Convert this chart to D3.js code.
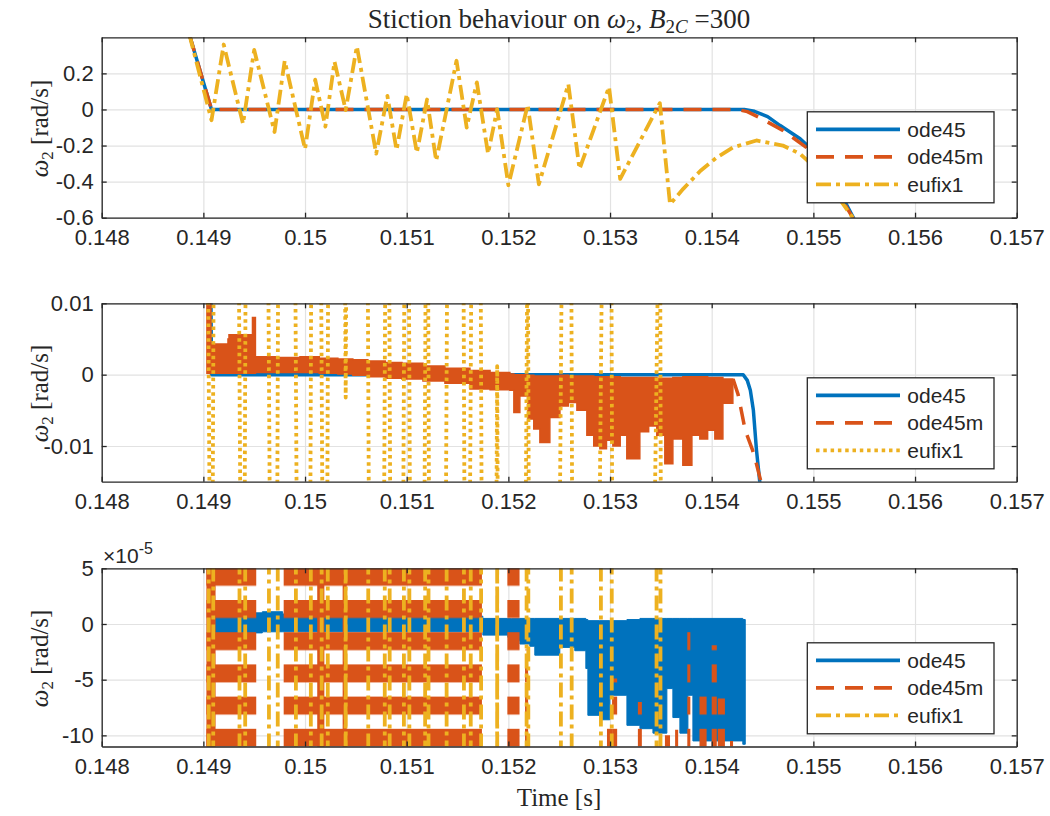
<!DOCTYPE html>
<html>
<head>
<meta charset="utf-8">
<script src="https://cdn.jsdelivr.net/npm/d3@7"></script>
<style>
body { margin: 0; background: #fff; }
svg text { fill: #262626; }
.sans { font-family: "Liberation Sans", Arial, sans-serif; }
.serif { font-family: "Liberation Serif", "Times New Roman", serif; }
</style>
</head>
<body>
<svg id="chart" width="1050" height="816"></svg>
<script>
// ticks
const xTicks = [0.148, 0.149, 0.150, 0.151, 0.152, 0.153, 0.154, 0.155, 0.156, 0.157];
const xTickLabels = ["0.148", "0.149", "0.15", "0.151", "0.152", "0.153", "0.154", "0.155", "0.156", "0.157"];
const topYTicks = [-0.6, -0.4, -0.2, 0, 0.2];
const topYLabels = ["-0.6", "-0.4", "-0.2", "0", "0.2"];
const midYTicks = [-0.01, 0, 0.01];
const midYLabels = ["-0.01", "0", "0.01"];
const botYTicks = [-10, -5, 0, 5];
const botYLabels = ["-10", "-5", "0", "5"];
const seriesNames = ["ode45", "ode45m", "eufix1"];

// eufix1, same run in all three panels (rad/s)
const eufixT = [0.14886, 0.14908, 0.14920, 0.14939, 0.14950, 0.14970, 0.14980, 0.15000, 0.15010, 0.15020,
  0.15029, 0.15040, 0.15051, 0.15070, 0.15081, 0.15090, 0.15100, 0.15110, 0.15120, 0.15129,
  0.15149, 0.15159, 0.15169, 0.15180, 0.15189, 0.15200, 0.15219, 0.15230, 0.15259, 0.15270,
  0.15299, 0.15310, 0.15349, 0.15359, 0.15372, 0.15389, 0.15405, 0.15421, 0.15444, 0.15470,
  0.15487, 0.15505, 0.15520, 0.15530, 0.15540, 0.15548];
const eufixW = [0.42, -0.06, 0.36, -0.08, 0.33, -0.125, 0.27, -0.22, 0.165, -0.095,
  0.265, -0.0032, 0.35, -0.245, 0.075, -0.225, 0.085, -0.24, 0.055, -0.285,
  0.27, -0.10, 0.15, -0.245, 0.0012, -0.42, 0.025, -0.415, 0.14, -0.33,
  0.125, -0.385, 0.035, -0.525, -0.44, -0.34, -0.266, -0.21, -0.172, -0.20,
  -0.246, -0.34, -0.45, -0.53, -0.61, -0.69];

// top panel
const ode45TopT = [0.14886, 0.14908, 0.15432, 0.15442, 0.15455, 0.15467, 0.15487, 0.15500, 0.15515, 0.15530, 0.15545];
const ode45TopW = [0.42, 0, 0, -0.01, -0.04, -0.088, -0.162, -0.23, -0.34, -0.50, -0.66];
const ode45mTopT = [0.14886, 0.14908, 0.15425, 0.15435, 0.15447, 0.15470, 0.15493, 0.15515, 0.15533, 0.15545];
const ode45mTopW = [0.42, 0, 0, -0.012, -0.045, -0.116, -0.21, -0.37, -0.545, -0.66];

// middle panel
const ode45MidT = [0.14886, 0.14908, 0.15431, 0.15435, 0.15438, 0.15441, 0.15444, 0.15448];
const ode45MidW = [0.42, 0, 0, -0.0008, -0.0022, -0.005, -0.0105, -0.016];
// ode45m chatter, drawn as its envelope
const ode45mMidT = [0.149035, 0.149065, 0.149075, 0.149242, 0.149252, 0.149473, 0.149483, 0.149502, 0.149512, 0.14973,
  0.14995, 0.15014, 0.150323, 0.15047, 0.150618, 0.15079, 0.150953, 0.15116, 0.151376, 0.151622,
  0.15182, 0.152015, 0.152054, 0.152113, 0.152192, 0.15225, 0.15231, 0.152408, 0.152507, 0.15259,
  0.152674, 0.152772, 0.15284, 0.1529, 0.152965, 0.153028, 0.1531, 0.153165, 0.153293, 0.15338,
  0.15346, 0.153539, 0.153618, 0.153716, 0.153805, 0.153883, 0.15396, 0.154031, 0.15411, 0.154208];
const ode45mMidHi = [0.0100, 0.0100, 0.0043, 0.0050, 0.0056, 0.0056, 0.0080, 0.0080, 0.0025, 0.0024,
  0.0025, 0.0023, 0.0022, 0.0021, 0.0019, 0.0017, 0.0016, 0.0012, 0.0009, 0.0006,
  0.0003, 0.0001, 0.0000, 0.0000, -0.0001, -0.0002, -0.0002, -0.0002, -0.0001, -0.0002,
  -0.0002, -0.0002, -0.0003, -0.0003, -0.0003, -0.0003, -0.0004, -0.0004, -0.0004, -0.0004,
  -0.0005, -0.0005, -0.0004, -0.0003, -0.0003, -0.0003, -0.0004, -0.0004, -0.0006, -0.0006];
const ode45mMidLo = [0.0002, 0.0002, 0.0002, 0.0002, 0.0002, 0.0002, 0.0002, 0.0002, 0.0003, 0.0003,
  0.0003, 0.0002, 0.0001, -0.0001, -0.0003, -0.0005, -0.0006, -0.0009, -0.0012, -0.0020,
  -0.0021, -0.0022, -0.0053, -0.0030, -0.0062, -0.0076, -0.0095, -0.0060, -0.0044, -0.0039,
  -0.0050, -0.0085, -0.0100, -0.0104, -0.0092, -0.0100, -0.0085, -0.0118, -0.0080, -0.0072,
  -0.0085, -0.0125, -0.0090, -0.0127, -0.0085, -0.0090, -0.0078, -0.0090, -0.0040, -0.0030];
const ode45mMidTailT = [0.15421, 0.15426, 0.15433, 0.15440, 0.15444, 0.15452];
const ode45mMidTailW = [-0.0006, -0.0028, -0.0078, -0.0105, -0.0125, -0.017];

// bottom panel, values in 1e-5 rad/s
const ode45BotT = [0.14904, 0.14958, 0.14978, 0.15110, 0.151749, 0.151995, 0.152034, 0.152113, 0.152211, 0.15226,
  0.152506, 0.152653, 0.152762, 0.152782, 0.1529, 0.152998, 0.153166, 0.153294, 0.153422, 0.153559,
  0.153618, 0.153687, 0.153766, 0.153815, 0.154306, 0.15433];
const ode45BotHi = [1.0, 1.1, 0.9, 0.7, 0.5, 0.5, 0.5, 0.5, 0.5, 0.5,
  0.5, 0.5, 0.4, 0.3, 0.3, 0.3, 0.4, 0.5, 0.5, 0.5,
  0.5, 0.5, 0.5, 0.5, 0.4, 0.4];
const ode45BotLo = [-0.8, -0.7, -0.7, -0.7, -1.0, -1.2, -1.5, -1.8, -2.0, -2.8,
  -2.1, -2.4, -4.0, -8.2, -8.6, -6.4, -9.1, -9.4, -9.8, -5.8,
  -8.4, -9.8, -6.4, -10.5, -10.8, -10.8];
// ode45m chatter blocks [t start, t end, top, bottom]
const ode45mBotBlocks = [
  [0.14903, 0.14952, 6, -12], [0.14979, 0.15174, 6, -12], [0.15199, 0.15211, 6, -12],
  [0.152164, 0.152194, -2.3, -12], [0.15297, 0.15302, -8.8, -12], [0.15302, 0.15307, -4.9, -12],
  [0.153274, 0.153313, -7, -12], [0.15354, 0.15359, -10, -12], [0.15364, 0.15367, -9.5, -12],
  [0.15376, 0.15379, -0.7, -12], [0.15388, 0.15395, -5.8, -12], [0.15400, 0.15405, -1.9, -12],
  [0.15406, 0.15413, -6.7, -12], [0.15418, 0.15421, -10.5, -12]];
const ode45mBotSolid = [[0.14903, 0.14912, 6, -12], [0.15012, 0.15019, 6, -12], [0.15037, 0.15041, 6, -12]];

const svg = d3.select("#chart");
const left = 101.7, right = 1016.7, w = right - left;
const x = d3.scaleLinear().domain([0.148, 0.157]).range([0, w]);
const blue = "#0072BD", red = "#D95319", yellow = "#EDB120";
const axisColor = "#262626", gridColor = "#e2e2e2";
const zip = (a, b) => a.map((d, i) => [d, b[i]]);

const defs = svg.append("defs");
const pat = defs.append("pattern").attr("id", "redStripes")
  .attr("patternUnits", "userSpaceOnUse")
  .attr("x", 0).attr("y", -0.5).attr("width", 10).attr("height", 32.2);
pat.append("rect").attr("width", 10).attr("height", 18).attr("fill", red);

// cut a polyline to a band of y so the huge swings stay short
function clipY(pts, lo, hi) {
  const out = [];
  let cur = null;
  for (let i = 0; i < pts.length - 1; i++) {
    const [t0, v0] = pts[i], [t1, v1] = pts[i + 1];
    let a = 0, b = 1;
    const dv = v1 - v0;
    if (dv === 0) {
      if (v0 < lo || v0 > hi) { cur = null; continue; }
    } else {
      let ta = (lo - v0) / dv, tb = (hi - v0) / dv;
      if (ta > tb) [ta, tb] = [tb, ta];
      a = Math.max(a, ta); b = Math.min(b, tb);
      if (a > b) { cur = null; continue; }
    }
    const p0 = [t0 + (t1 - t0) * a, v0 + dv * a];
    const p1 = [t0 + (t1 - t0) * b, v0 + dv * b];
    if (!cur || a > 0) { cur = [p0]; out.push(cur); }
    cur.push(p1);
    if (b < 1) cur = null;
  }
  return out;
}

function makePanel(id, top, bottom, yDomain, yTicks) {
  const h = bottom - top;
  const y = d3.scaleLinear().domain(yDomain).range([h, 0]);
  const g = svg.append("g").attr("transform", `translate(${left},${top})`);
  defs.append("clipPath").attr("id", "clip" + id)
    .append("rect").attr("width", w).attr("height", h);
  g.append("g")
    .call(d3.axisBottom(x).tickValues(xTicks).tickSize(h).tickFormat(""))
    .call(s => s.select(".domain").remove())
    .selectAll("line").attr("stroke", gridColor).attr("stroke-width", 1.2);
  g.append("g")
    .call(d3.axisLeft(y).tickValues(yTicks).tickSize(-w).tickFormat(""))
    .call(s => s.select(".domain").remove())
    .selectAll("line").attr("stroke", gridColor).attr("stroke-width", 1.2);
  const plot = g.append("g").attr("clip-path", `url(#clip${id})`);
  const line = d3.line().x(d => x(d[0])).y(d => y(d[1]));
  return { g, plot, y, h, line, yDomain };
}

function styleAxis(s) {
  s.attr("font-size", 22).attr("font-family", "Liberation Sans, Arial, sans-serif");
  s.select(".domain").attr("stroke", axisColor).attr("stroke-width", 1.3);
  s.selectAll(".tick line").attr("stroke", axisColor).attr("stroke-width", 1.3);
  s.selectAll(".tick text").attr("fill", "#262626");
}

function finish(p, yTicks, yLabels) {
  const { g, y, h } = p;
  g.append("g").attr("transform", `translate(0,${h})`)
    .call(d3.axisBottom(x).tickValues(xTicks).tickFormat((d, i) => xTickLabels[i])
      .tickSizeInner(-5).tickSizeOuter(0).tickPadding(12))
    .call(styleAxis);
  g.append("g")
    .call(d3.axisTop(x).tickValues(xTicks).tickFormat("").tickSizeInner(-5).tickSizeOuter(0))
    .call(styleAxis);
  g.append("g")
    .call(d3.axisLeft(y).tickValues(yTicks).tickFormat((d, i) => yLabels[i])
      .tickSizeInner(-5).tickSizeOuter(0).tickPadding(8))
    .call(styleAxis);
  g.append("g").attr("transform", `translate(${w},0)`)
    .call(d3.axisRight(y).tickValues(yTicks).tickFormat("").tickSizeInner(-5).tickSizeOuter(0))
    .call(styleAxis);
  const lab = g.append("text").attr("class", "serif")
    .attr("transform", `translate(${48 - left},${h / 2 + 1}) rotate(-90)`)
    .attr("text-anchor", "middle").attr("font-size", 25);
  lab.append("tspan").attr("font-style", "italic").text("ω");
  lab.append("tspan").attr("font-size", 17).attr("dy", 5).text("2");
  lab.append("tspan").attr("dy", -5).text(" [rad/s]");
}

function legend(p, styles) {
  const lg = p.g.append("g").attr("transform", `translate(${807.3 - left},74.5)`);
  lg.append("rect").attr("width", 186.7).attr("height", 91)
    .attr("fill", "#fff").attr("stroke", axisColor).attr("stroke-width", 1.3);
  const rows = [17.5, 45, 72.5];
  seriesNames.forEach((n, i) => {
    lg.append("line").attr("x1", 8.7).attr("x2", 92.7).attr("y1", rows[i]).attr("y2", rows[i])
      .attr("stroke", styles[i].color).attr("stroke-width", 3.8)
      .attr("stroke-dasharray", styles[i].dash);
    lg.append("text").attr("class", "sans").attr("x", 100).attr("y", rows[i])
      .attr("dy", "0.36em").attr("font-size", 21).text(n);
  });
}

function drawLine(p, pts, color, dash, width) {
  const [lo, hi] = p.yDomain;
  const m = (hi - lo) * 0.05;
  const d = clipY(pts, lo - m, hi + m).map(s => p.line(s)).join("");
  p.plot.append("path").attr("d", d).attr("fill", "none")
    .attr("stroke", color).attr("stroke-width", width)
    .attr("stroke-dasharray", dash).attr("stroke-linejoin", "round");
}

const dashRed = "18,11", dashDot = "15,5,4,5", dots = "3.5,3.8";

// top panel
const p1 = makePanel(1, 37.3, 217.7, [-0.6, 0.4], topYTicks);
drawLine(p1, zip(ode45TopT, ode45TopW), blue, null, 3.5);
drawLine(p1, zip(ode45mTopT, ode45mTopW), red, dashRed, 3.5);
drawLine(p1, zip(eufixT, eufixW), yellow, dashDot, 3.8);
finish(p1, topYTicks, topYLabels);
legend(p1, [{ color: blue, dash: null }, { color: red, dash: dashRed }, { color: yellow, dash: dashDot }]);

// middle panel
const p2 = makePanel(2, 303.3, 481.7, [-0.015, 0.01], midYTicks);
drawLine(p2, zip(ode45MidT, ode45MidW), blue, null, 3.5);
p2.plot.append("path")
  .datum(ode45mMidT.map((t, i) => [t, ode45mMidHi[i], ode45mMidLo[i]]))
  .attr("d", d3.area().curve(d3.curveStepAfter).x(d => x(d[0])).y0(d => p2.y(d[2])).y1(d => p2.y(d[1])))
  .attr("fill", red).attr("stroke", red).attr("stroke-width", 1.5);
drawLine(p2, zip(ode45mMidTailT, ode45mMidTailW), red, dashRed, 3.5);
drawLine(p2, zip(eufixT, eufixW), yellow, dots, 3.8);
finish(p2, midYTicks, midYLabels);
legend(p2, [{ color: blue, dash: null }, { color: red, dash: dashRed }, { color: yellow, dash: dots }]);

// bottom panel (axis in 1e-5)
const p3 = makePanel(3, 568.3, 746.5, [-11, 5], botYTicks);
p3.plot.append("path")
  .datum(ode45BotT.map((t, i) => [t, ode45BotHi[i], ode45BotLo[i]]))
  .attr("d", d3.area().curve(d3.curveStepAfter).x(d => x(d[0])).y0(d => p3.y(d[2])).y1(d => p3.y(d[1])))
  .attr("fill", blue).attr("stroke", blue).attr("stroke-width", 1);
const blockArea = d3.area().x(d => x(d[0])).y0(d => p3.y(d[2])).y1(d => p3.y(d[1]));
p3.plot.selectAll(".blk").data(ode45mBotBlocks).join("path")
  .attr("d", b => blockArea([[b[0], b[2], b[3]], [b[1], b[2], b[3]]]))
  .attr("fill", "url(#redStripes)");
p3.plot.selectAll(".sol").data(ode45mBotSolid).join("path")
  .attr("d", b => blockArea([[b[0], b[2], b[3]], [b[1], b[2], b[3]]]))
  .attr("fill", red);
drawLine(p3, zip(eufixT, eufixW.map(v => v * 1e5)), yellow, dashDot, 3.8);
finish(p3, botYTicks, botYLabels);
legend(p3, [{ color: blue, dash: null }, { color: red, dash: dashRed }, { color: yellow, dash: dashDot }]);

const ex = svg.append("text").attr("class", "sans").attr("x", 103).attr("y", 563).attr("font-size", 21);
ex.append("tspan").text("×10");
ex.append("tspan").attr("font-size", 16).attr("dy", -9).text("-5");

// title and x label
const title = svg.append("text").attr("class", "serif").attr("x", 559).attr("y", 28)
  .attr("text-anchor", "middle").attr("font-size", 27);
title.append("tspan").text("Stiction behaviour on ");
title.append("tspan").attr("font-style", "italic").text("ω");
title.append("tspan").attr("font-size", 19).attr("dy", 5).text("2");
title.append("tspan").attr("dy", -5).text(", ");
title.append("tspan").attr("font-style", "italic").text("B");
title.append("tspan").attr("font-size", 19).attr("dy", 5).text("2");
title.append("tspan").attr("font-size", 19).attr("font-style", "italic").text("C");
title.append("tspan").attr("dy", -5).text(" =300");

svg.append("text").attr("class", "serif").attr("x", 559).attr("y", 806)
  .attr("text-anchor", "middle").attr("font-size", 25).text("Time [s]");
</script>
</body>
</html>
